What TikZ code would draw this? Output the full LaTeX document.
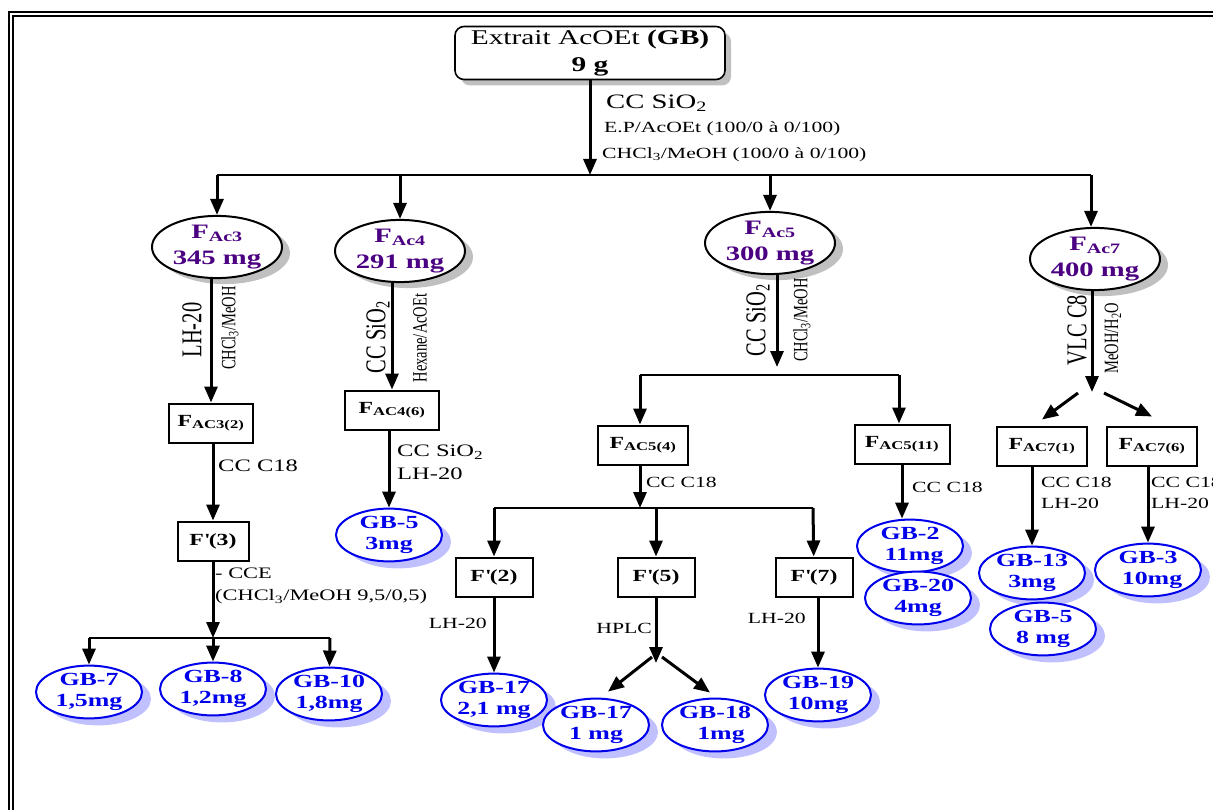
\documentclass[tikz,border=0pt]{standalone}
\usepackage{fontspec}
\setmainfont[FakeStretch=1.4]{Liberation Serif}
\newfontfamily\rotfont{Liberation Serif}
\usetikzlibrary{shapes.geometric, arrows.meta, shadows}

\definecolor{fracpurple}{RGB}{75,0,130}
\definecolor{gbblue}{RGB}{0,0,235}
\definecolor{gbshade}{RGB}{192,192,255}
\definecolor{greyshade}{RGB}{192,192,192}

\begin{document}
\begin{tikzpicture}[x=1pt, y=-1pt,
  extract/.style={rectangle, rounded corners=9pt, draw=black, line width=1.6pt, fill=white,
    minimum width=270pt, minimum height=53pt, inner sep=0pt, align=center,
    font=\fontsize{21}{27}\selectfont,
    drop shadow={shadow xshift=6pt, shadow yshift=-6pt, fill=greyshade, opacity=1}},
  fraction/.style={ellipse, draw=black, line width=2pt, fill=white, minimum width=130pt,
    minimum height=56pt, inner sep=0pt, align=center, text=fracpurple,
    font=\fontsize{20.5}{26}\selectfont\bfseries,
    drop shadow={shadow xshift=8pt, shadow yshift=-6pt, fill=greyshade, opacity=1}},
  subfrac/.style={rectangle, draw=black, line width=2pt, fill=white, minimum height=39pt,
    inner sep=0pt, font=\fontsize{17}{20}\selectfont\bfseries},
  product/.style={ellipse, draw=gbblue, line width=2pt, fill=white, minimum width=106pt,
    minimum height=46pt, inner sep=0pt, align=center, text=gbblue,
    font=\fontsize{18.5}{21}\selectfont\bfseries,
    drop shadow={shadow xshift=9pt, shadow yshift=-7pt, fill=gbshade, opacity=1}},
  arrow/.style={-{Triangle[length=16pt, width=13pt]}, line width=3pt},
  branch/.style={line width=2pt},
  cond/.style={font=\fontsize{15.5}{21}\selectfont, align=left, inner sep=0pt},
  bigcond/.style={cond, font=\fontsize{17.5}{23}\selectfont},
  rotbig/.style={rotate=90, inner sep=0pt, font=\rotfont\fontsize{20.5}{22}\selectfont},
  rotsmall/.style={rotate=90, inner sep=0pt, font=\rotfont\fontsize{14.5}{16}\selectfont}
]
\useasboundingbox (0,0) rectangle (1213,810);

% double frame
\draw[line width=2pt] (9,810) -- (9,12) -- (1213,12);
\draw[line width=2pt] (13,810) -- (13,16) -- (1213,16);

% extract
\node[extract] (extract) at (590,53) {Extrait AcOEt \textbf{(GB)}\\\textbf{9 g}};
\coordinate (s0) at (590,175);
\draw[arrow] (extract) -- (s0);
\node[cond, anchor=west, font=\fontsize{20.5}{22}\selectfont] (cc0) at (606,103) {CC SiO\textsubscript{2}};
\node[cond, anchor=west] (ep0) at (604,129) {E.P/AcOEt (100/0 à 0/100)};
\node[cond, anchor=west] (cm0) at (602,155) {CHCl\textsubscript{3}/MeOH (100/0 à 0/100)};

% first fractions
\coordinate (b3) at (217,175);
\coordinate (b4) at (400,175);
\coordinate (b5) at (770,175);
\coordinate (b7) at (1091,175);
\draw[branch] (b3) -- (b7);

\node[fraction] (fac3) at (217,247) {F\textsubscript{Ac3}\\345 mg};
\node[fraction] (fac4) at (400,251) {F\textsubscript{Ac4}\\291 mg};
\node[fraction] (fac5) at (770,243) {F\textsubscript{Ac5}\\300 mg};
\node[fraction] (fac7) at (1095,259) {F\textsubscript{Ac7}\\400 mg};
\draw[arrow] (b3) -- (fac3);
\draw[arrow] (b4) -- (fac4);
\draw[arrow] (b5) -- (fac5);
\draw[arrow] (b7) -- (b7 |- fac7.north);

% FAc3 column
\node[subfrac, minimum width=84pt] (fac32) at (211,423) {F\textsubscript{AC3(2)}};
\node[subfrac, minimum width=71pt] (f3) at (213,541) {F\textquotesingle(3)};
\draw[arrow] (fac3.south -| fac32) -- (fac32);
\node[rotbig] (lh3) at (192,330) {\scalebox{1}[1.4]{LH-20}};
\node[rotsmall] (cm3) at (230,328) {\scalebox{1}[1.4]{CHCl\textsubscript{3}/MeOH}};
\draw[arrow] (fac32.south -| f3) -- (f3);
\node[bigcond, anchor=west] (cc3) at (218,466) {CC C18};
\coordinate (s3) at (213,638);
\coordinate (l3) at (89,638);
\coordinate (r3) at (330,638);
\draw[arrow] (f3) -- (s3);
\node[cond, anchor=north west, font=\fontsize{16}{22}\selectfont] (cce3) at (215,568) {- CCE\\(CHCl\textsubscript{3}/MeOH 9,5/0,5)};
\draw[branch] (l3) -- (r3);
\node[product] (gb7) at (89,692) {GB-7\\1,5mg};
\node[product] (gb8) at (213,689) {GB-8\\1,2mg};
\node[product] (gb10) at (329,694) {GB-10\\1,8mg};
\draw[arrow] (l3) -- (gb7);
\draw[arrow] (s3) -- (gb8);
\draw[arrow] (r3) -- (gb10);

% FAc4 column
\node[subfrac, minimum width=94pt] (fac46) at (392,410) {F\textsubscript{AC4(6)}};
\draw[arrow] (fac4.south -| fac46) -- (fac46);
\node[rotbig] (cc4) at (378,337) {\scalebox{1}[1.4]{CC SiO\textsubscript{2}}};
\node[rotsmall] (hx4) at (420,338) {\scalebox{1}[1.4]{Hexane/AcOEt}};
\node[product] (gb5a) at (389,535) {GB-5\\3mg};
\draw[arrow] (fac46.south -| gb5a) -- (gb5a);
\node[bigcond, anchor=north west] (cc46) at (397,445) {CC SiO\textsubscript{2}\\LH-20};

% FAc5 column
\coordinate (e5) at (777,367);
\draw[arrow] (fac5.south -| e5) -- (e5);
\node[rotbig] (cc5) at (758,320) {\scalebox{1}[1.4]{CC SiO\textsubscript{2}}};
\node[rotsmall] (cm5) at (802,320) {\scalebox{1}[1.4]{CHCl\textsubscript{3}/MeOH}};
\coordinate (l5) at (640,375);
\coordinate (r5) at (899,375);
\draw[branch] (l5) -- (r5);
\node[subfrac, minimum width=90pt] (fac54) at (643,445) {F\textsubscript{AC5(4)}};
\node[subfrac, minimum width=95pt] (fac511) at (902,444) {F\textsubscript{AC5(11)}};
\draw[arrow] (l5) -- (l5 |- fac54.north);
\draw[arrow] (r5) -- (r5 |- fac511.north);

\coordinate (s54) at (640,508);
\coordinate (l54) at (494,508);
\coordinate (m54) at (656,508);
\coordinate (r54) at (813,508);
\draw[arrow] (fac54.south -| s54) -- (s54);
\node[cond, anchor=west] (cc54) at (646,482) {CC C18};
\draw[branch] (l54) -- (r54);
\node[subfrac, minimum width=77pt] (f2) at (494,577) {F\textquotesingle(2)};
\node[subfrac, minimum width=77pt] (f5) at (656,577) {F\textquotesingle(5)};
\node[subfrac, minimum width=77pt] (f7) at (814,577) {F\textquotesingle(7)};
\draw[arrow] (l54) -- (f2);
\draw[arrow] (m54) -- (f5);
\draw[arrow] (r54) -- (f7);

\node[product] (gb17a) at (494,700) {GB-17\\2,1 mg};
\draw[arrow] (f2) -- (gb17a);
\node[cond, anchor=east] (lh2) at (487,623) {LH-20};

\coordinate (e55) at (656,663);
\draw[arrow] (f5) -- (e55);
\node[cond, anchor=east] (hplc) at (652,628) {HPLC};
\node[product] (gb17b) at (596,725) {GB-17\\1 mg};
\node[product] (gb18) at (715,725) {GB-18\\\hspace*{12pt}1mg};
\coordinate (d5l) at (652,657);
\coordinate (d5r) at (662,657);
\draw[arrow] (d5l) -- ([xshift=12pt, yshift=6pt]gb17b.north);
\draw[arrow] (d5r) -- ([xshift=-5pt, yshift=5pt]gb18.north);

\node[product] (gb19) at (818,695) {GB-19\\10mg};
\draw[arrow] (f7.south -| gb19) -- (gb19);
\node[cond, anchor=east] (lh7) at (806,618) {LH-20};

\node[product] (gb2) at (910,546) {GB-2\\\hspace*{8pt}11mg};
\node[product] (gb20) at (918,598) {GB-20\\4mg};
\draw[arrow] (fac511) -- (fac511 |- gb2.north);
\node[cond, anchor=west] (cc511) at (912,487) {CC C18};

% FAc7 column
\coordinate (e7) at (1092,392);
\draw[arrow] (fac7.south -| e7) -- (e7);
\node[rotbig] (vlc7) at (1077,330) {\scalebox{1}[1.4]{VLC C8}};
\node[rotsmall] (mw7) at (1113,338) {\scalebox{1}[1.4]{MeOH/H\textsubscript{2}O}};
\node[subfrac, minimum width=90pt] (fac71) at (1042,446) {F\textsubscript{AC7(1)}};
\node[subfrac, minimum width=90pt] (fac76) at (1152,446) {F\textsubscript{AC7(6)}};
\coordinate (d7l) at (1078,393);
\coordinate (d7r) at (1104,393);
\draw[arrow] (d7l) -- ([yshift=6pt]fac71.north);
\draw[arrow] (d7r) -- ([yshift=9pt]fac76.north);

\node[product] (gb13) at (1032,573) {GB-13\\3mg};
\node[product] (gb5b) at (1043,629) {GB-5\\8 mg};
\draw[arrow] (fac71.south -| gb13) -- (gb13);
\node[cond, anchor=north west] (cc71) at (1041,477) {CC C18\\LH-20};

\node[product] (gb3) at (1148,570) {GB-3\\\hspace*{8pt}10mg};
\draw[arrow] (fac76.south -| gb3) -- (gb3);
\node[cond, anchor=north west] (cc76) at (1151,477) {CC C18\\LH-20};

\end{tikzpicture}
\end{document}
